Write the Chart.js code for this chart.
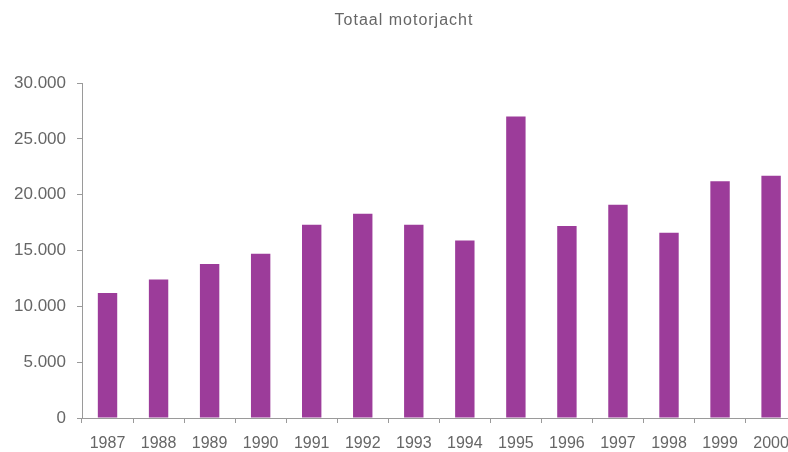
<!DOCTYPE html>
<html>
<head>
<meta charset="utf-8">
<title>Totaal motorjacht</title>
<script src="https://cdn.jsdelivr.net/npm/chart.js@4/dist/chart.umd.min.js"></script>
<style>
  html, body { margin: 0; padding: 0; background: #fff; overflow: hidden; }
  #wrap { width: 800px; height: 452px; }
</style>
</head>
<body>
<div id="wrap"><canvas id="chart" width="800" height="452"></canvas></div>
<script>
// Jaren en aantallen
const years = ['1987', '1988', '1989', '1990', '1991', '1992', '1993',
               '1994', '1995', '1996', '1997', '1998', '1999', '2000'];
const totals = [11200, 12400, 13800, 14700, 17300, 18300, 17300,
                15900, 27000, 17200, 19100, 16600, 21200, 21700];
const yTicks = [0, 5000, 10000, 15000, 20000, 25000, 30000];
const chartTitle = 'Totaal motorjacht';

const FONT = "'Liberation Sans', Arial, sans-serif";
const fmt = v => v.toString().replace(/\B(?=(\d{3})+(?!\d))/g, '.');

// Titel met iets ruimere letterafstand
const spacedTitle = {
  id: 'spacedTitle',
  afterDraw(chart) {
    const ctx = chart.ctx;
    ctx.save();
    ctx.font = '16px ' + FONT;
    ctx.fillStyle = '#666';
    ctx.textAlign = 'center';
    ctx.textBaseline = 'middle';
    if ('letterSpacing' in ctx) ctx.letterSpacing = '1px';
    ctx.fillText(chartTitle, 404, 21);
    ctx.restore();
  }
};

new Chart(document.getElementById('chart'), {
  type: 'bar',
  data: {
    labels: years,
    datasets: [{
      label: chartTitle,
      data: totals,
      backgroundColor: '#9c3c9a',
      borderWidth: 0,
      categoryPercentage: 1.0,
      barPercentage: 0.38
    }]
  },
  options: {
    responsive: false,
    animation: false,
    devicePixelRatio: 1,
    layout: { padding: { left: 0, right: 3, top: 83, bottom: 0 } },
    plugins: {
      legend: { display: false },
      tooltip: { enabled: false },
      title: { display: false }
    },
    scales: {
      x: {
        grid: {
          display: true,
          drawOnChartArea: false,
          drawTicks: true,
          tickLength: 5,
          color: '#9a9a9a',
          offset: true
        },
        border: { display: true, color: '#9a9a9a', width: 1 },
        ticks: {
          color: '#666',
          font: { family: FONT, size: 16 },
          padding: 11,
          maxRotation: 0,
          autoSkip: false
        },
        afterFit: s => { s.height = 34; }
      },
      y: {
        min: 0,
        max: 30000,
        afterBuildTicks: s => { s.ticks = yTicks.map(v => ({ value: v })); },
        grid: {
          display: true,
          drawOnChartArea: false,
          drawTicks: true,
          tickLength: 5,
          color: '#9a9a9a'
        },
        border: { display: true, color: '#9a9a9a', width: 1 },
        ticks: {
          color: '#666',
          font: { family: FONT, size: 17 },
          padding: 11,
          callback: v => fmt(v)
        },
        afterFit: s => { s.width = 82; }
      }
    }
  },
  plugins: [spacedTitle]
});
</script>
</body>
</html>
